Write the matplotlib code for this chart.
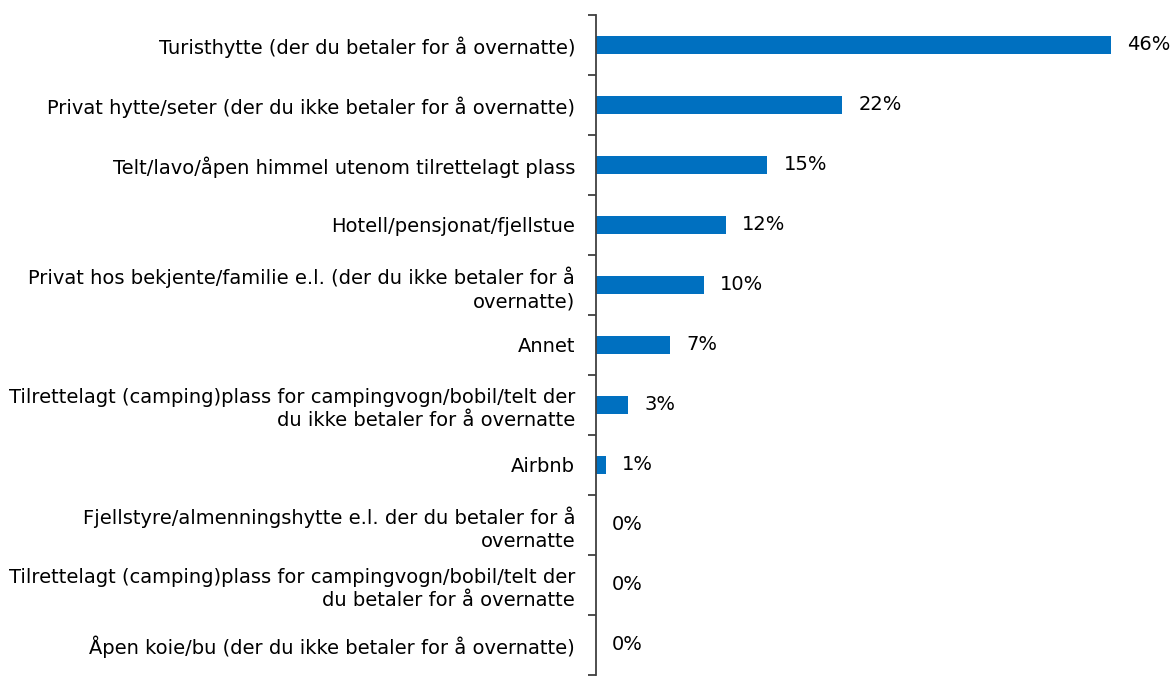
import numpy as np
import matplotlib.pyplot as plt

categories = ['Turisthytte (der du betaler for å overnatte)',
              'Privat hytte/seter (der du ikke betaler for å overnatte)',
              'Telt/lavo/åpen himmel utenom tilrettelagt plass',
              'Hotell/pensjonat/fjellstue',
              'Privat hos bekjente/familie e.l. (der du ikke betaler for å\novernatte)',
              'Annet',
              'Tilrettelagt (camping)plass for campingvogn/bobil/telt der\ndu ikke betaler for å overnatte',
              'Airbnb',
              'Fjellstyre/almenningshytte e.l. der du betaler for å\novernatte',
              'Tilrettelagt (camping)plass for campingvogn/bobil/telt der\ndu betaler for å overnatte',
              'Åpen koie/bu (der du ikke betaler for å overnatte)']
values = [46.0, 22.0, 15.3, 11.6, 9.6, 6.6, 2.9, 0.9, 0.0, 0.0, 0.0]

plt.rcParams['font.family'] = ['DejaVu Sans']

fig = plt.figure(figsize=(11.76, 6.77), dpi=100)
ax = fig.add_axes([596/1176, 2/677, 580/1176, 660/677])

y = np.arange(len(categories))
ax.barh(y, values, height=0.3, color='#0070C0')
for yi, v in zip(y, values):
    ax.text(v + 1.45, yi, '{:.0f}%'.format(v), va='center', ha='left', fontsize=14, color='black')

ax.set_xlim(0, 580/11.2)
ax.set_ylim(len(categories) - 0.5, -0.5)

# boundary ticks on the axis, labels at bar centres
ax.set_yticks(np.arange(-0.5, len(categories)), minor=False)
ax.set_yticklabels([])
ax.set_yticks(y, minor=True)
ax.set_yticklabels(categories, minor=True, fontsize=14, ha='right',
                   multialignment='right', linespacing=1.25)
ax.tick_params(axis='y', which='major', length=6, width=1.3, color='#404040', direction='out')
ax.tick_params(axis='y', which='minor', length=0, pad=15)

ax.set_xticks([])
for s in ['top', 'right', 'bottom']:
    ax.spines[s].set_visible(False)
ax.spines['left'].set_color('#404040')
ax.spines['left'].set_linewidth(1.3)

fig.savefig('out.png', dpi=100)
